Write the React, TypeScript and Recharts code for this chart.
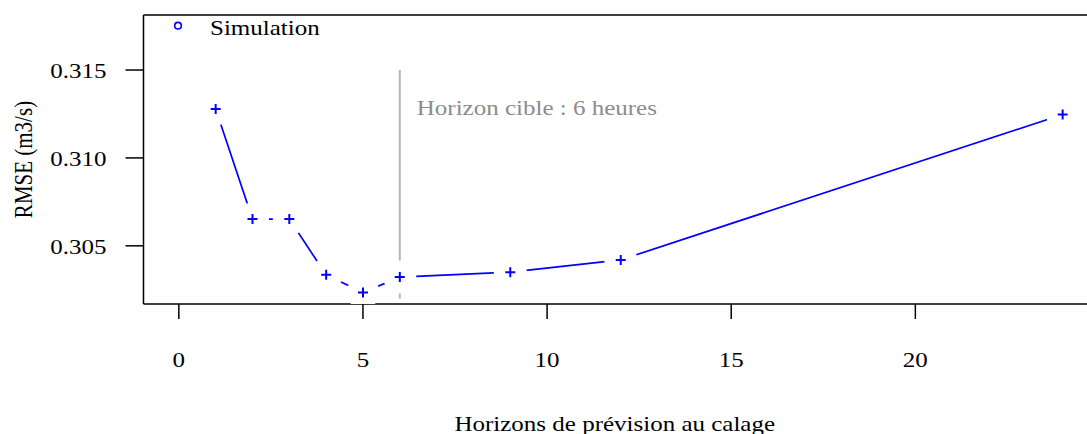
import React from 'react';
import { LineChart, Line, XAxis, YAxis, Legend, ReferenceDot, ReferenceLine, Label } from 'recharts';

const horizons = [1, 2, 3, 4, 5, 6, 9, 12, 24];
const rmse = [0.31278, 0.30652, 0.30652, 0.30335, 0.30234, 0.30322, 0.3035, 0.3042, 0.31247];
const xTicks = [0, 5, 10, 15, 20];
const yTicks = [0.305, 0.31, 0.315];
const targetX = [6, 6];
const targetY = [0.315, 0.302];
const seriesName = 'Simulation';
const targetText = 'Horizon cible : 6 heures';
const xTitle = 'Horizons de prévision au calage';
const yTitle = 'RMSE (m3/s)';

const data = horizons.map((h, i) => ({ h, v: rmse[i] }));
const targetData = targetX.map((h, i) => ({ h, v: targetY[i] }));

const X_DOMAIN: [number, number] = [-0.96, 24.96];
const Y_DOMAIN: [number, number] = [0.30169, 0.31813];

const FONT = '"Liberation Serif", "Times New Roman", serif';
const FS = 21;
const SX = 1.19;
const BLUE = '#0000ff';

const PlusDot = (props: any) => {
  const { cx, cy, index } = props;
  if (cx == null || cy == null) return null;
  return (
    <g key={`d${index}`} transform={`translate(${cx},${cy})`}>
      <circle r={16.5} fill="#ffffff" />
      <path d="M-5,0H5M0,-5V5" stroke={BLUE} strokeWidth={2} fill="none" />
    </g>
  );
};

const XTick = (props: any) => {
  const { x, y, payload } = props;
  return (
    <text
      transform={`translate(${x},${y + 48}) scale(${SX},1)`}
      textAnchor="middle"
      fontFamily={FONT}
      fontSize={FS}
      fill="#000"
    >
      {payload.value}
    </text>
  );
};

const YTick = (props: any) => {
  const { x, y, payload } = props;
  return (
    <text
      transform={`translate(${x},${y + 8}) scale(${SX},1)`}
      textAnchor="end"
      fontFamily={FONT}
      fontSize={FS}
      fill="#000"
    >
      {Number(payload.value).toFixed(3)}
    </text>
  );
};

const XTitle = (props: any) => {
  const vb = props.viewBox || {};
  const cx = (vb.x || 0) + (vb.width || 0) / 2 - 6;
  const y = (vb.y || 0) + 127;
  return (
    <text
      transform={`translate(${cx},${y}) scale(${SX},1)`}
      textAnchor="middle"
      fontFamily={FONT}
      fontSize={FS}
      fill="#000"
    >
      {xTitle}
    </text>
  );
};

const YTitle = (props: any) => {
  const vb = props.viewBox || {};
  const cy = (vb.y || 0) + (vb.height || 0) / 2;
  return (
    <text
      transform={`translate(32,${cy}) scale(${SX},1) rotate(-90)`}
      textAnchor="middle"
      fontFamily={FONT}
      fontSize={FS}
      fill="#000"
    >
      {yTitle}
    </text>
  );
};

const TargetLabel = (props: any) => {
  const vb = props.viewBox || {};
  const x = (vb.x || 0) + (vb.width || 0) / 2;
  const y = (vb.y || 0) + (vb.height || 0) / 2;
  return (
    <text
      transform={`translate(${x + 17},${y + 1}) scale(${SX},1)`}
      textAnchor="start"
      fontFamily={FONT}
      fontSize={FS}
      fill="#8c8c8c"
    >
      {targetText}
    </text>
  );
};

const LegendBox = () => (
  <div style={{ position: 'relative', width: 0, height: 0, overflow: 'visible' }}>
    <svg width={400} height={50} style={{ position: 'absolute', left: 0, top: 0, display: 'block' }}>
      <circle cx={178} cy={25.7} r={3.3} fill="none" stroke={BLUE} strokeWidth={1.6} />
      <text
        transform={`translate(210,35) scale(${SX},1)`}
        fontFamily={FONT}
        fontSize={FS}
        fill="#000"
      >
        {seriesName}
      </text>
    </svg>
  </div>
);

export default function App() {
  return (
    <div style={{ position: 'absolute', left: 0, top: 0, width: 1087, height: 434, background: '#fff' }}>
      <LineChart
        width={1087}
        height={434}
        data={data}
        margin={{ top: 15, right: -11, bottom: 0, left: 0 }}
      >
        <XAxis
          dataKey="h"
          type="number"
          domain={X_DOMAIN}
          ticks={xTicks}
          allowDataOverflow
          height={130}
          tickSize={15}
          tickMargin={0}
          tick={<XTick />}
          stroke="#000"
          strokeWidth={1.5}
          tickLine={{ stroke: '#000', strokeWidth: 1.5 }}
          axisLine={{ stroke: '#000', strokeWidth: 1.5 }}
        >
          <Label content={<XTitle />} />
        </XAxis>
        <YAxis
          type="number"
          domain={Y_DOMAIN}
          ticks={yTicks}
          allowDataOverflow
          width={143.5}
          tickSize={18}
          tickMargin={19}
          tick={<YTick />}
          tickLine={{ stroke: '#000', strokeWidth: 1.5 }}
          axisLine={{ stroke: '#000', strokeWidth: 1.5 }}
        >
          <Label content={<YTitle />} />
        </YAxis>
        <Legend
          content={<LegendBox />}
          verticalAlign="top"
          wrapperStyle={{ position: 'absolute', left: 0, top: 0, width: 0, height: 0, overflow: 'visible' }}
        />
        <ReferenceLine y={Y_DOMAIN[1]} stroke="#000" strokeWidth={1.5} ifOverflow="visible" />
        <Line
          dataKey="v"
          stroke={BLUE}
          strokeWidth={1.7}
          dot={<PlusDot />}
          activeDot={false}
          isAnimationActive={false}
          legendType="none"
        />
        <Line
          data={targetData}
          dataKey="v"
          stroke="#b4b4b4"
          strokeWidth={2}
          dot={false}
          activeDot={false}
          isAnimationActive={false}
          legendType="none"
        />
        <ReferenceDot
          x={6}
          y={0.3125}
          r={0}
          fill="none"
          stroke="none"
          label={<TargetLabel />}
        />
      </LineChart>
    </div>
  );
}
